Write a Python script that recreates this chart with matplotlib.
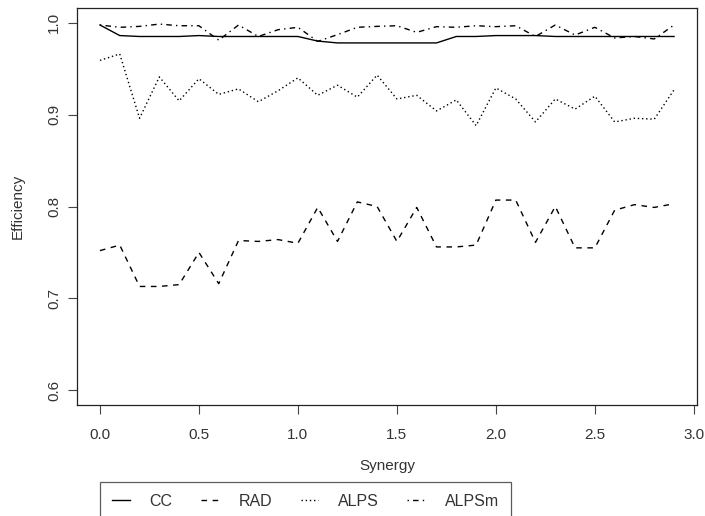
import matplotlib
matplotlib.use("Agg")
import matplotlib.pyplot as plt
import numpy as np

plt.rcParams['font.family'] = ['Liberation Sans', 'DejaVu Sans']

# synergy levels 0.0 .. 2.9
synergy = [round(0.1 * i, 1) for i in range(30)]

cc = [0.9975, 0.986, 0.985, 0.985, 0.985, 0.986, 0.985, 0.985, 0.985, 0.985,
      0.985, 0.980, 0.978, 0.978, 0.978, 0.978, 0.978, 0.978, 0.985, 0.985,
      0.986, 0.986, 0.986, 0.985, 0.985, 0.985, 0.985, 0.985, 0.985, 0.985]

rad = [0.752, 0.758, 0.713, 0.713, 0.715, 0.750, 0.716, 0.763, 0.762, 0.764,
       0.760, 0.799, 0.762, 0.805, 0.800, 0.762, 0.799, 0.756, 0.756, 0.758,
       0.807, 0.807, 0.761, 0.800, 0.755, 0.755, 0.796, 0.802, 0.799, 0.803]

alps = [0.959, 0.966, 0.896, 0.941, 0.915, 0.939, 0.922, 0.928, 0.914, 0.926,
        0.940, 0.921, 0.932, 0.919, 0.943, 0.917, 0.921, 0.904, 0.916, 0.888,
        0.929, 0.917, 0.892, 0.917, 0.906, 0.920, 0.892, 0.896, 0.895, 0.927]

alpsm = [0.9975, 0.995, 0.996, 0.9985, 0.9967, 0.9967, 0.981, 0.9975, 0.985, 0.9924,
         0.995, 0.9797, 0.987, 0.995, 0.996, 0.9967, 0.9895, 0.9957, 0.995, 0.9967,
         0.9957, 0.9967, 0.985, 0.9975, 0.9866, 0.995, 0.9834, 0.985, 0.9823, 0.9975]

txt = '#333333'

fig = plt.figure(figsize=(7.05, 5.16), dpi=100)
ax = fig.add_axes([0.1092, 0.2151, 0.8795, 0.7694])

lw = 1.0
ax.plot(synergy, cc, color='black', lw=lw, label='CC')
ax.plot(synergy, rad, color='black', lw=lw, dashes=(4, 4), label='RAD')
ax.plot(synergy, alps, color='black', lw=lw, dashes=(1, 2), label='ALPS')
ax.plot(synergy, alpsm, color='black', lw=lw, dashes=(1, 3, 4, 3), label='ALPSm')

ax.set_xlim(-0.116, 3.016)
ax.set_ylim(0.584, 1.016)
ax.set_xticks([0.0, 0.5, 1.0, 1.5, 2.0, 2.5, 3.0])
ax.set_xticklabels(['0.0', '0.5', '1.0', '1.5', '2.0', '2.5', '3.0'])
ax.set_yticks([0.6, 0.7, 0.8, 0.9, 1.0])
ax.set_yticklabels(['0.6', '0.7', '0.8', '0.9', '1.0'], rotation=90, va='center')
ax.tick_params(direction='out', length=6.5, width=0.8, labelsize=11, colors='#444444',
               labelcolor=txt)
ax.tick_params(axis='x', pad=10)
ax.tick_params(axis='y', pad=5)
for s in ax.spines.values():
    s.set_linewidth(0.9)
    s.set_color('#222222')

ax.set_xlabel('Synergy', fontsize=11, color=txt)
ax.set_ylabel('Efficiency', fontsize=11, color=txt)
ax.xaxis.set_label_coords(0.5, (405 - 466) / 397)
ax.xaxis.label.set_va('center')
ax.yaxis.set_label_coords((18 - 77) / 620, 0.5)
ax.yaxis.label.set_va('center')

leg = fig.legend(loc='upper left', bbox_to_anchor=(100 / 705, 1 - 482 / 516),
                 ncol=4, fontsize=11.5, frameon=True, fancybox=False,
                 edgecolor='#333333', handlelength=1.1, columnspacing=1.78,
                 handletextpad=1.25, borderpad=0.75, borderaxespad=0)
leg.get_frame().set_linewidth(0.9)
for t in leg.get_texts():
    t.set_color(txt)

fig.savefig('out.png', dpi=100)
